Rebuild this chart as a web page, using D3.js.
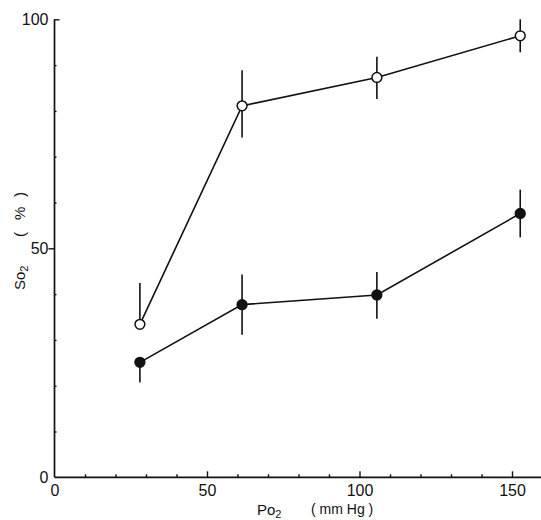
<!DOCTYPE html>
<html>
<head>
<meta charset="utf-8">
<script src="https://cdn.jsdelivr.net/npm/d3@7"></script>
<style>
  body { margin: 0; background: #fff; }
  text { font-family: "Liberation Sans", Arial, sans-serif; fill: #111; }
</style>
</head>
<body>
<svg id="chart"></svg>
<script>
// dimension settings
const width = 541;
const height = 520;

// data (Po2 in mmHg, So2 in %)
const po2 = [28, 61.5, 105.7, 152.7];
const openSo2 = [33.4, 81.1, 87.3, 96.4];
const openErrUp = [9.0, 7.8, 4.5, 3.6];
const openErrDown = [0, 6.9, 4.7, 3.6];
const filledSo2 = [25.1, 37.7, 39.8, 57.6];
const filledErrUp = [0, 6.6, 5.0, 5.2];
const filledErrDown = [4.4, 6.6, 5.2, 5.2];

const xLabelTicks = [0, 50, 100, 150];
const xMinorTicks = [10, 20, 30, 40, 60, 70, 80, 90, 110, 120, 130, 140, 160];
const yLabelTicks = [0, 50, 100];
const yMinorTicks = [10, 20, 30, 40, 60, 70, 80, 90];

const svg = d3.select("#chart")
  .attr("width", width)
  .attr("height", height);

// scales
const x = d3.scaleLinear().domain([0, 160]).range([54.5, 542.5]);
const y = d3.scaleLinear().domain([0, 100]).range([477.3, 19.3]);

// axis lines
svg.append("line")
  .attr("x1", x(0)).attr("x2", width)
  .attr("y1", y(0)).attr("y2", y(0))
  .attr("stroke", "#111").attr("stroke-width", 1.7);

svg.append("line")
  .attr("x1", x(0)).attr("x2", x(0))
  .attr("y1", y(0)).attr("y2", y(100))
  .attr("stroke", "#111").attr("stroke-width", 1.7);

// x axis ticks (pointing up into the plot)
const xAxis = svg.append("g")
  .attr("transform", `translate(0,${y(0)})`)
  .call(d3.axisBottom(x).tickValues(xLabelTicks).tickSize(-6).tickSizeOuter(0).tickPadding(7));

svg.append("g")
  .attr("transform", `translate(0,${y(0)})`)
  .call(d3.axisBottom(x).tickValues(xMinorTicks).tickSize(-3).tickSizeOuter(0).tickFormat(""));

// y axis ticks
const yAxis = svg.append("g")
  .attr("transform", `translate(${x(0)},0)`)
  .call(d3.axisLeft(y).tickValues(yLabelTicks).tickSize(6).tickSizeOuter(0).tickPadding(0));

// the 100 tick points into the plot
yAxis.selectAll(".tick").filter(d => d === 100).select("line").attr("x2", 5);
yAxis.selectAll(".tick").filter(d => d === 0).select("line").remove();
xAxis.selectAll(".tick").filter(d => d === 0).select("line").remove();

svg.append("g")
  .attr("transform", `translate(${x(0)},0)`)
  .call(d3.axisRight(y).tickValues(yMinorTicks).tickSize(2).tickSizeOuter(0).tickFormat(""));

svg.selectAll(".domain").remove();
svg.selectAll(".tick line").attr("stroke", "#111").attr("stroke-width", 1.4);
svg.selectAll(".tick text").style("font-size", "16px").attr("fill", "#111");

// axis titles
const yTitle = svg.append("text")
  .attr("transform", "rotate(-90)")
  .style("font-size", "15px");
yTitle.append("tspan").attr("x", -290).attr("y", 25).text("So");
yTitle.append("tspan").attr("dy", 3).style("font-size", "11px").text("2");
yTitle.append("tspan").attr("x", -237).attr("y", 25).text("(");
yTitle.append("tspan").attr("x", -220).attr("y", 25).text("%");
yTitle.append("tspan").attr("x", -197).attr("y", 25).text(")");

const xTitle = svg.append("text")
  .attr("y", 515)
  .style("font-size", "15px");
xTitle.append("tspan").attr("x", 257).text("Po");
xTitle.append("tspan").attr("dy", 3).style("font-size", "11px").text("2");
xTitle.append("tspan").attr("x", 311).attr("y", 514).style("font-size", "14px").text("( mm Hg )");

// series
const series = [
  { values: openSo2, up: openErrUp, down: openErrDown, fill: "#fff" },
  { values: filledSo2, up: filledErrUp, down: filledErrDown, fill: "#111" }
];

series.forEach(s => {
  const pts = po2.map((p, i) => ({ x: p, y: s.values[i], up: s.up[i], down: s.down[i] }));

  // error bars
  svg.append("g")
    .selectAll("line")
    .data(pts)
    .join("line")
    .attr("x1", d => x(d.x))
    .attr("x2", d => x(d.x))
    .attr("y1", d => y(d.y + d.up))
    .attr("y2", d => y(d.y - d.down))
    .attr("stroke", "#111")
    .attr("stroke-width", 1.6);

  // connecting line
  svg.append("path")
    .datum(pts)
    .attr("fill", "none")
    .attr("stroke", "#111")
    .attr("stroke-width", 1.6);
  svg.select("path:last-of-type")
    .attr("d", d3.line().x(d => x(d.x)).y(d => y(d.y))(pts));
});

series.forEach(s => {
  const pts = po2.map((p, i) => ({ x: p, y: s.values[i] }));
  svg.append("g")
    .selectAll("circle")
    .data(pts)
    .join("circle")
    .attr("cx", d => x(d.x))
    .attr("cy", d => y(d.y))
    .attr("r", 4.9)
    .attr("fill", s.fill)
    .attr("stroke", "#111")
    .attr("stroke-width", 1.5);
});
</script>
</body>
</html>
